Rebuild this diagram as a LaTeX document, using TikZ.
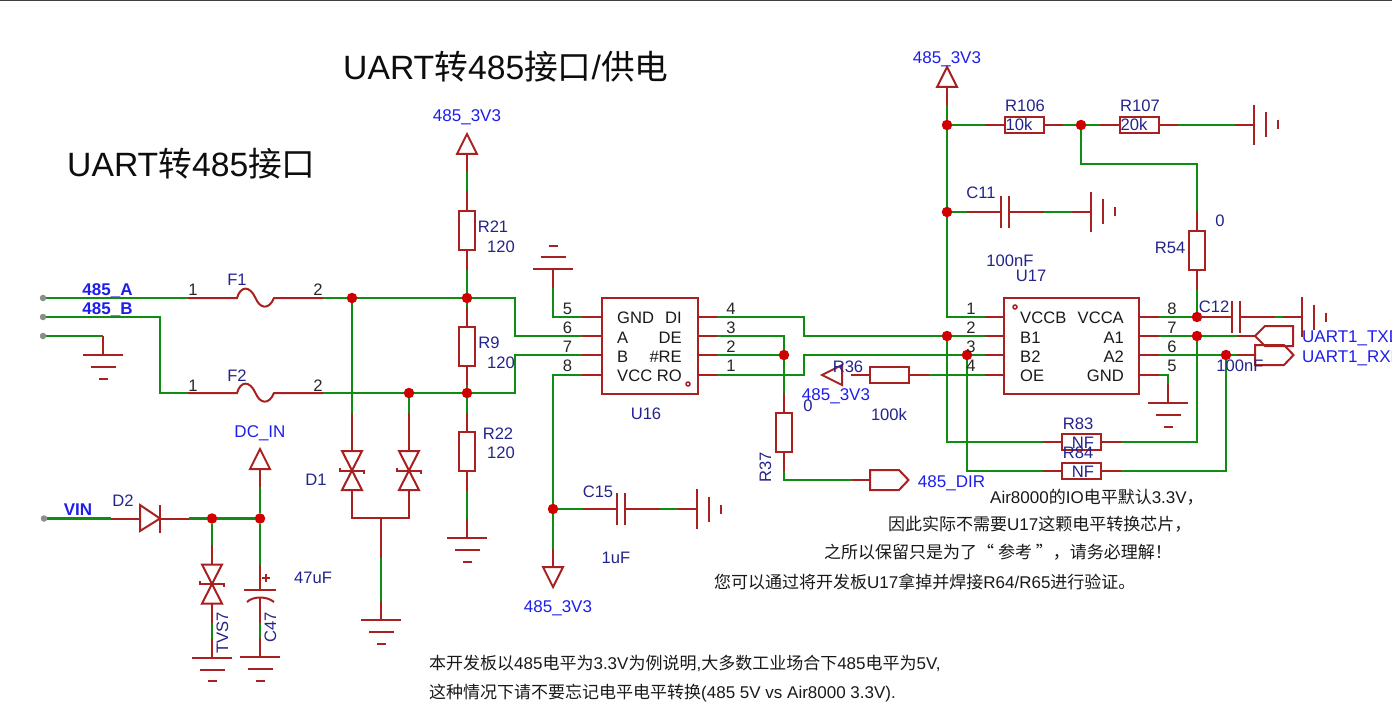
\documentclass[tikz,border=0pt]{standalone}
\usepackage{fontspec}
\setmainfont{Liberation Sans}
\newfontfamily\cjk{Noto Sans CJK SC}
\newcommand{\zh}[1]{{\cjk #1}}
\usetikzlibrary{positioning, calc, backgrounds}

\definecolor{leadred}{RGB}{168,32,32}
\definecolor{wiregreen}{RGB}{16,140,16}
\definecolor{dotred}{RGB}{208,0,0}
\definecolor{netblue}{RGB}{30,30,235}
\definecolor{refblue}{RGB}{35,35,140}

\tikzset{
    lead/.style={draw=leadred, line width=2pt},
    wire/.style={draw=wiregreen, line width=2.6pt},
    junction/.style={circle, fill=dotred, inner sep=0pt, minimum size=10.5pt},
    term/.style={circle, fill=black!45, inner sep=0pt, minimum size=6.5pt},
    chip/.style={draw=leadred, line width=2pt, inner sep=0pt, minimum width=#1, minimum height=96pt},
    resbox/.style={draw=leadred, line width=2pt, inner sep=0pt, minimum width=39pt, minimum height=16pt},
    lbl/.style={inner sep=0pt, text height=12pt, text depth=0pt, font=\fontsize{16.6}{18}\selectfont},
    refdes/.style={lbl, text=refblue},
    netname/.style={lbl, text=netblue, font=\fontsize{17}{18}\selectfont},
    netbold/.style={netname, font=\fontsize{17}{18}\selectfont\bfseries},
    pinnum/.style={lbl, text=black!85},
    chiptext/.style={lbl, text=black!90},
    notetext/.style={lbl, text=black!90, anchor=west, font=\fontsize{17}{18}\selectfont},
    headtext/.style={inner sep=0pt, text height=24pt, text depth=0pt, text=black!95, anchor=west, font=\fontsize{33.7}{36}\selectfont},
    res/.pic={
        \node[resbox, transform shape] (-box) at (0,0) {};
        \draw[lead] (-19.5,0) -- (-39,0) coordinate (-a);
        \draw[lead] (19.5,0) -- (39,0) coordinate (-b);
    },
    capa/.pic={
        \draw[lead] (-4,-16) -- (-4,16);
        \draw[lead] (4,-16) -- (4,16);
        \draw[lead] (-4,0) -- (-38.5,0) coordinate (-a);
        \draw[lead] (4,0) -- (38.5,0) coordinate (-b);
    },
    fuse/.pic={
        \draw[lead] (-67.5,0) coordinate (-a) -- (-18.5,0)
            .. controls (-15,-12) and (-6,-13) .. (0,0)
            .. controls (4,10) and (13,13) .. (18.5,0) -- (67.5,0) coordinate (-b);
    },
    tvs/.pic={
        \draw[lead] (-10,-19.5) -- (10,-19.5) -- (-10,19.5) -- (10,19.5) -- cycle;
        \draw[lead] (-12,-3) -- (-12,0) -- (12,0) -- (12,3);
        \draw[lead] (0,-19.5) -- (0,-39) coordinate (-a);
        \draw[lead] (0,19.5) -- (0,39) coordinate (-b);
    },
    gndsym/.pic={
        \draw[lead] (-19,0) coordinate (-a) -- (0,0);
        \draw[lead] (0,-20) -- (0,20);
        \draw[lead] (12,-12.5) -- (12,12.5);
        \draw[lead] (23.5,-4.5) -- (23.5,4.5);
    },
    vccarrow/.pic={
        \draw[lead] (-18,0) coordinate (-a) -- (0,0);
        \draw[lead] (0,-10) -- (20,0) -- (0,10) -- cycle;
    },
    tagout/.pic={
        \draw[lead] (-18,0) coordinate (-a) -- (0,0);
        \draw[lead] (0,-10) -- (29,-10) -- (38.5,0) -- (29,10) -- (0,10) -- cycle;
    },
    tagin/.pic={
        \draw[lead] (-18,0) coordinate (-a) -- (0,0);
        \draw[lead] (0,0) -- (10,-10) -- (38,-10) -- (38,10) -- (10,10) -- cycle;
    },
}

\begin{document}
\begin{tikzpicture}[x=1pt, y=-1pt]
    \useasboundingbox (0,0) rectangle (1392,714);
    \draw[black!75, line width=3pt] (0,0) -- (1392,0);

    % Connector terminals and fuses
    \node[term] (T1) at (43,298) {};
    \node[term] (T2) at (43,317) {};
    \node[term] (T3) at (43,336) {};
    \node[term] (T4) at (44,518.5) {};
    \pic (F1) at (255.5,298) {fuse};
    \pic (F2) at (255.5,393) {fuse};
    \pic[rotate=-90] (G1) at (103,355) {gndsym};

    % Junctions
    \node[junction] (J1) at (352,298) {};
    \node[junction] (J2) at (467,298) {};
    \node[junction] (J3) at (409,393) {};
    \node[junction] (J4) at (467,393) {};
    \node[junction] (J5) at (553,509) {};
    \node[junction] (J6) at (947,336) {};
    \node[junction] (J7) at (784,355) {};
    \node[junction] (J8) at (967,355) {};
    \node[junction] (J9) at (1197,336) {};
    \node[junction] (J10) at (947,212) {};
    \node[junction] (J11) at (947,125) {};
    \node[junction] (J12) at (1226,355) {};
    \node[junction] (J13) at (1197,317) {};
    \node[junction] (J14) at (1081,125) {};
    \node[junction] (J15) at (212,518.5) {};
    \node[junction] (J16) at (260,518.5) {};
    \coordinate (Acorner) at (515,336);
    \coordinate (Bcorner) at (160,393);
    \coordinate (Bjog) at (515,355);
    \coordinate (W4) at (804,336);
    \coordinate (W1) at (804,355);
    \coordinate (W54) at (1197,164);
    \coordinate (D1com) at (381,518);
    \coordinate (D1stem) at (381,558);
    \coordinate (D1aw) at (352,413);
    \coordinate (D1bw) at (409,413);

    % Termination resistors
    \pic[rotate=90] (P1) at (467,154) {vccarrow};
    \pic[rotate=-90] (R21) at (467,230.5) {res};
    \pic[rotate=-90] (R9) at (467,346) {res};
    \pic[rotate=-90] (R22) at (467,451.5) {res};
    \pic[rotate=-90] (G3) at (467,538) {gndsym};

    % Protection diodes D1
    \pic (D1a) at (352,470.5) {tvs};
    \pic (D1b) at (409,470.5) {tvs};
    \draw[lead] (D1aw) -- (D1a-a);
    \draw[lead] (D1bw) -- (D1b-a);
    \draw[lead] (D1a-b) |- (D1com) -| (D1b-b);
    \draw[lead] (D1com) -- (D1stem);
    \pic[rotate=-90] (G2) at (381,620) {gndsym};

    % Power input - D2, TVS7, C47
    \coordinate (D2a) at (111,518.5);
    \coordinate (D2b) at (189,518.5);
    \draw[lead] (D2a) -- (140,518.5);
    \draw[lead] (140,505) -- (160,518.5) -- (140,531) -- cycle;
    \draw[lead] (160,505) -- (160,532.5);
    \draw[lead] (160,518.5) -- (D2b);
    \pic[rotate=90] (P5) at (260,469) {vccarrow};
    \pic (TVS7) at (212,584) {tvs};
    \pic[rotate=-90] (G10) at (212,657.5) {gndsym};
    \coordinate (C47a) at (260,565);
    \coordinate (C47b) at (260,623);
    \draw[lead] (C47a) -- (260,590);
    \draw[lead] (244,590) -- (276,590);
    \draw[lead] (247,602) .. controls (253,596) and (267,596) .. (274,602);
    \draw[lead] (260,597) -- (C47b);
    \draw[lead] (266,574) -- (266,582) (262,578) -- (270,578);
    \pic[rotate=-90] (G11) at (260,657) {gndsym};

    % U16 - transceiver
    \node[chip=96pt] (U16) at (650,346) {};
    \draw[lead] (602,317) -- (582,317) coordinate (U16-5);
    \draw[lead] (602,336) -- (582,336) coordinate (U16-6);
    \draw[lead] (602,355) -- (582,355) coordinate (U16-7);
    \draw[lead] (602,375) -- (582,375) coordinate (U16-8);
    \draw[lead] (698,317) -- (717,317) coordinate (U16-4);
    \draw[lead] (698,336) -- (717,336) coordinate (U16-3);
    \draw[lead] (698,355) -- (717,355) coordinate (U16-2);
    \draw[lead] (698,375) -- (717,375) coordinate (U16-1);
    \draw[leadred, line width=1.5pt] (688,384) circle (2);
    \pic[rotate=90] (G4) at (553,269) {gndsym};
    \pic (C15) at (621,509) {capa};
    \pic (G5) at (697,509) {gndsym};
    \pic[rotate=-90] (P2) at (553,567) {vccarrow};

    % R37, R36 - direction control
    \pic[rotate=-90] (R37) at (784,432) {res};
    \pic (T485) at (870,480) {tagout};
    \pic (R36) at (889.5,375) {res};
    \draw[lead] (842,365) -- (822,375) -- (842,385) -- cycle;

    % U17 - level shifter
    \node[chip=135pt] (U17) at (1071.5,346) {};
    \draw[lead] (1004,317) -- (985,317) coordinate (U17-1);
    \draw[lead] (1004,336) -- (985,336) coordinate (U17-2);
    \draw[lead] (1004,355) -- (985,355) coordinate (U17-3);
    \draw[lead] (1004,375) -- (985,375) coordinate (U17-4);
    \draw[lead] (1139,317) -- (1159,317) coordinate (U17-8);
    \draw[lead] (1139,336) -- (1159,336) coordinate (U17-7);
    \draw[lead] (1139,355) -- (1159,355) coordinate (U17-6);
    \draw[lead] (1139,375) -- (1159,375) coordinate (U17-5);
    \draw[leadred, line width=1.5pt] (1015,307) circle (2);
    \pic[rotate=90] (P4) at (947,87) {vccarrow};
    \pic (R106) at (1024,125) {res};
    \pic (R107) at (1139,125) {res};
    \pic (G7) at (1254,125) {gndsym};
    \pic (C11) at (1005,212) {capa};
    \pic (G6) at (1091,212) {gndsym};
    \pic[rotate=-90] (R54) at (1197,250.5) {res};
    \pic (C12) at (1236,317) {capa};
    \pic (G8) at (1302,317) {gndsym};
    \pic[rotate=-90] (G9) at (1168,403) {gndsym};
    \pic (R83) at (1081.5,442) {res};
    \pic (R84) at (1081.5,471) {res};
    \pic (TTX) at (1255,336) {tagin};
    \pic (TRX) at (1255,355) {tagout};

    % Green wires, behind everything else
    \begin{scope}[on background layer]
        \draw[wire] (T1) -- (F1-a);
        \draw[wire] (F1-b) -- (J1) -- (J2) -| (Acorner) -- (U16-6);
        \draw[wire] (T2) -| (Bcorner) -- (F2-a);
        \draw[wire] (F2-b) -- (J3) -- (J4) -| (Bjog) -- (U16-7);
        \draw[wire] (T3) -| (G1-a);
        \draw[wire] (J1) -- (D1aw);
        \draw[wire] (J3) -- (D1bw);
        \draw[wire] (P1-a) -- (R21-a);
        \draw[wire] (R21-b) -- (J2) -- (R9-a);
        \draw[wire] (R9-b) -- (J4) -- (R22-a);
        \draw[wire] (R22-b) -- (G3-a);
        \draw[wire] (D1stem) -- (G2-a);
        \draw[wire] (T4) -- (D2a);
        \draw[wire] (D2b) -- (J15) -- (J16) -- (P5-a);
        \draw[wire] (J15) -- (TVS7-a);
        \draw[wire] (TVS7-b) -- (G10-a);
        \draw[wire] (J16) -- (C47a);
        \draw[wire] (C47b) -- (G11-a);
        \draw[wire] (G4-a) |- (U16-5);
        \draw[wire] (U16-8) -| (J5) -- (P2-a);
        \draw[wire] (J5) -- (C15-a);
        \draw[wire] (C15-b) -- (G5-a);
        \draw[wire] (U16-4) -| (W4) -- (J6) -- (U17-2);
        \draw[wire] (U16-3) -| (J7) -- (R37-a);
        \draw[wire] (U16-2) -- (J7);
        \draw[wire] (U16-1) -| (W1) -- (J8) -- (U17-3);
        \draw[wire] (R37-b) |- (T485-a);
        \draw[wire] (R36-b) -- (U17-4);
        \draw[wire] (U17-1) -| (J10) -- (J11) -- (P4-a);
        \draw[wire] (J6) |- (R83-a);
        \draw[wire] (R83-b) -| (J9);
        \draw[wire] (J8) |- (R84-a);
        \draw[wire] (R84-b) -| (J12);
        \draw[wire] (U17-7) -- (J9) -- (TTX-a);
        \draw[wire] (U17-6) -- (J12) -- (TRX-a);
        \draw[wire] (U17-8) -- (J13);
        \draw[wire] (R54-b) -- (J13);
        \draw[wire] (C12-b) -- (G8-a);
        \draw[wire] (J11) -- (R106-a);
        \draw[wire] (R106-b) -- (J14) -- (R107-a);
        \draw[wire] (R107-b) -- (G7-a);
        \draw[wire] (J14) |- (W54) -- (R54-a);
        \draw[wire] (J10) -- (C11-a);
        \draw[wire] (C11-b) -- (G6-a);
        \draw[wire] (U17-5) -| (G9-a);
    \end{scope}

    % Titles
    \node[headtext] (head1) at (343,68) {UART\zh{转}485\zh{接口}/\zh{供电}};
    \node[headtext] (head2) at (67,165) {UART\zh{转}485\zh{接口}};

    % Net names
    \node[netbold] (n485A) at (107.5,289) {485\_A};
    \node[netbold] (n485B) at (107.5,308) {485\_B};
    \node[netbold] (nVIN) at (78,509) {VIN};
    \node[netname] (nDCIN) at (260,431) {DC\_IN};
    \node[netname] (nP1) at (467,116) {485\_3V3};
    \node[netname] (nP2) at (558,606) {485\_3V3};
    \node[netname] (nP3) at (836,394) {485\_3V3};
    \node[netname] (nP4) at (947,58) {485\_3V3};
    \node[netname] (nDIR) at (951.5,481) {485\_DIR};
    \node[netname, anchor=west] (nTXD) at (1302,336.5) {UART1\_TXD};
    \node[netname, anchor=west] (nRXD) at (1302,356) {UART1\_RXD};

    % Reference designators and values
    \node[refdes] (lF1) at (237,279) {F1};
    \node[refdes] (lF2) at (237,375) {F2};
    \node[refdes] (lD1) at (316,479) {D1};
    \node[refdes] (lD2) at (123,500) {D2};
    \node[refdes, rotate=90] (lTVS7) at (222,633) {TVS7};
    \node[refdes, rotate=90] (lC47) at (270,627) {C47};
    \node[refdes] (v47u) at (313,577) {47uF};
    \node[refdes] (lR21) at (493,227) {R21};
    \node[refdes] (vR21) at (501,246) {120};
    \node[refdes] (lR9) at (489,342) {R9};
    \node[refdes] (vR9) at (501,362) {120};
    \node[refdes] (lR22) at (498,433) {R22};
    \node[refdes] (vR22) at (501,452) {120};
    \node[refdes] (lU16) at (646,413) {U16};
    \node[refdes] (lC15) at (598,491) {C15};
    \node[refdes] (vC15) at (616,557) {1uF};
    \node[refdes, rotate=90] (lR37) at (765,467) {R37};
    \node[refdes] (vR37) at (808,405) {0};
    \node[refdes] (lR36) at (848,366) {R36};
    \node[refdes] (vR36) at (889,414) {100k};
    \node[refdes] (lR106) at (1025,106) {R106};
    \node[refdes] (vR106) at (1019,125) {10k};
    \node[refdes] (lR107) at (1140,106) {R107};
    \node[refdes] (vR107) at (1134,125) {20k};
    \node[refdes] (lC11) at (981,193) {C11};
    \node[refdes] (vC11) at (1010,260) {100nF};
    \node[refdes] (lU17) at (1031,275) {U17};
    \node[refdes] (vR54) at (1220,221) {0};
    \node[refdes] (lR54) at (1170,247) {R54};
    \node[refdes] (lC12) at (1214,306) {C12};
    \node[refdes] (vC12) at (1240,365) {100nF};
    \node[refdes] (lR83) at (1078,423) {R83};
    \node[refdes] (vR83) at (1083,442) {NF};
    \node[refdes] (lR84) at (1078,452) {R84};
    \node[refdes] (vR84) at (1083,471) {NF};

    % Pin numbers
    \node[pinnum] (nF1a) at (193,289) {1};
    \node[pinnum] (nF1b) at (318,289) {2};
    \node[pinnum] (nF2a) at (193,385) {1};
    \node[pinnum] (nF2b) at (318,385) {2};
    \node[pinnum] (u16n5) at (567.5,308) {5};
    \node[pinnum] (u16n6) at (567.5,327) {6};
    \node[pinnum] (u16n7) at (567.5,346) {7};
    \node[pinnum] (u16n8) at (567.5,365) {8};
    \node[pinnum] (u16n4) at (731,308) {4};
    \node[pinnum] (u16n3) at (731,327) {3};
    \node[pinnum] (u16n2) at (731,346) {2};
    \node[pinnum] (u16n1) at (731,365) {1};
    \node[pinnum] (u17n1) at (971,308) {1};
    \node[pinnum] (u17n2) at (971,327) {2};
    \node[pinnum] (u17n3) at (971,346) {3};
    \node[pinnum] (u17n4) at (971,365) {4};
    \node[pinnum] (u17n8) at (1172,308) {8};
    \node[pinnum] (u17n7) at (1172,327) {7};
    \node[pinnum] (u17n6) at (1172,346) {6};
    \node[pinnum] (u17n5) at (1172,365) {5};

    % Pin names inside the chips
    \node[chiptext, anchor=west] (u16gnd) at (617,317) {GND};
    \node[chiptext, anchor=west] (u16a) at (617,337) {A};
    \node[chiptext, anchor=west] (u16b) at (617,356) {B};
    \node[chiptext, anchor=west] (u16vcc) at (617,375) {VCC};
    \node[chiptext, anchor=east] (u16di) at (682,317) {DI};
    \node[chiptext, anchor=east] (u16de) at (682,337) {DE};
    \node[chiptext, anchor=east] (u16re) at (682,356) {\#RE};
    \node[chiptext, anchor=east] (u16ro) at (682,375) {RO};
    \node[chiptext, anchor=west] (u17vccb) at (1020,317) {VCCB};
    \node[chiptext, anchor=west] (u17b1) at (1020,337) {B1};
    \node[chiptext, anchor=west] (u17b2) at (1020,356) {B2};
    \node[chiptext, anchor=west] (u17oe) at (1020,375) {OE};
    \node[chiptext, anchor=east] (u17vcca) at (1124,317) {VCCA};
    \node[chiptext, anchor=east] (u17a1) at (1124,337) {A1};
    \node[chiptext, anchor=east] (u17a2) at (1124,356) {A2};
    \node[chiptext, anchor=east] (u17gnd) at (1124,375) {GND};

    % Notes
    \node[notetext] (note1) at (990,497) {Air8000\zh{的}IO\zh{电平默认}3.3V\zh{，}};
    \node[notetext] (note2) at (888,524) {\zh{因此实际不需要}U17\zh{这颗电平转换芯片，}};
    \node[notetext] (note3) at (824,552) {\zh{之所以保留只是为了“ 参考 ”，请务必理解！}};
    \node[notetext] (note4) at (714,582) {\zh{您可以通过将开发板}U17\zh{拿掉并焊接}R64/R65\zh{进行验证。}};
    \node[notetext] (note5) at (429,663) {\zh{本开发板以}485\zh{电平为}3.3V\zh{为例说明},\zh{大多数工业场合下}485\zh{电平为}5V,};
    \node[notetext] (note6) at (429,692) {\zh{这种情况下请不要忘记电平电平转换}(485 5V vs Air8000 3.3V).};
\end{tikzpicture}
\end{document}
